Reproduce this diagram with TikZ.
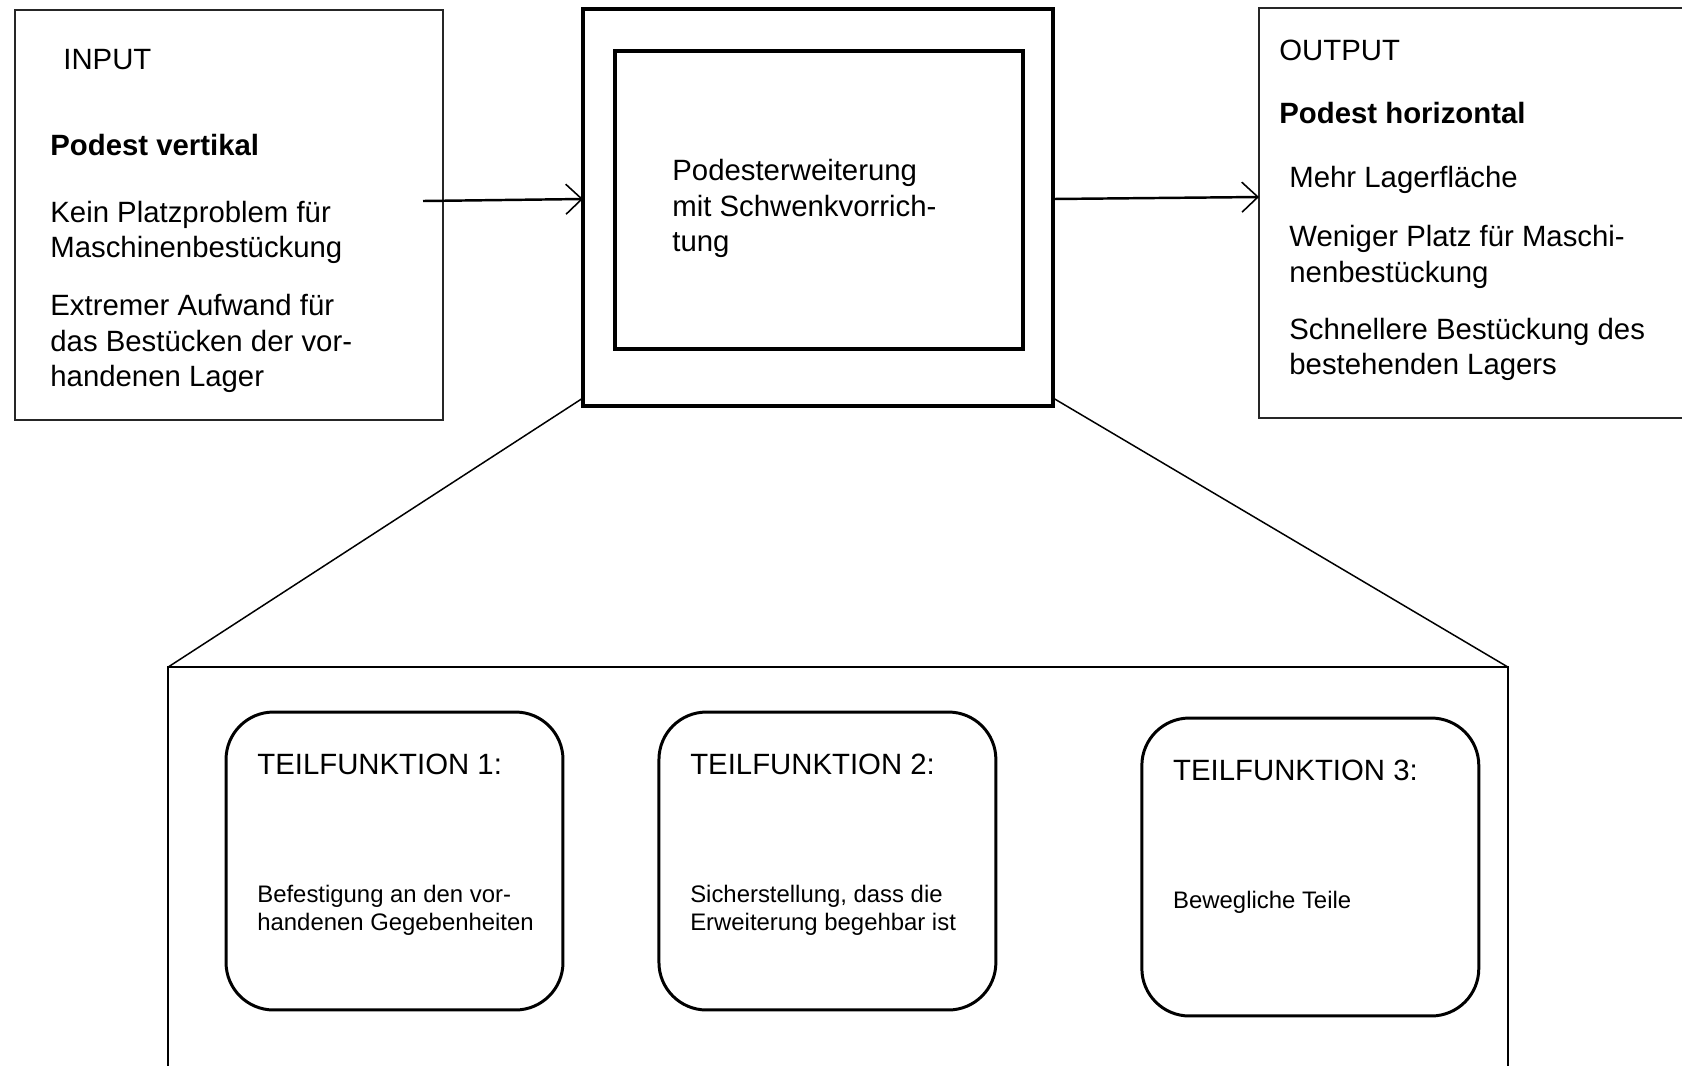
\documentclass[tikz,border=0pt]{standalone}
\usepackage{fontspec}
\setmainfont{Liberation Sans}
\usetikzlibrary{arrows.meta, positioning}

\begin{document}
\begin{tikzpicture}[
  x=0.02cm, y=-0.02cm,
  txt/.style={font=\fontsize{16.7}{20.2}\selectfont, align=left, inner sep=0pt, anchor=north west},
  small/.style={font=\fontsize{13.6}{16}\selectfont, align=left, inner sep=0pt, anchor=north west},
  frame/.style={rectangle, draw=black!85, line width=0.85pt, inner sep=0pt, outer sep=0pt},
  heavy/.style={rectangle, draw=black, line width=2.2pt, inner sep=0pt, outer sep=0pt},
  tfbox/.style={rectangle, draw=black, line width=1.7pt, rounded corners=0.95cm,
                minimum width=6.74cm, minimum height=5.96cm, inner sep=0pt, outer sep=0pt},
  arrow/.style={-{Straight Barb[length=3.2mm, width=6mm, line width=0.9pt]}, line width=1.4pt},
  link/.style={line width=0.85pt},
]
  \clip (0,0) rectangle (1682,1065);

  % input / system / output
  \node[frame, minimum width=8.56cm, minimum height=8.2cm] (input) at (229,215) {};
  \node[heavy, minimum width=9.4cm, minimum height=7.94cm] (system) at (818,207.5) {};
  \node[heavy, line width=2pt, minimum width=8.16cm, minimum height=5.96cm] (core) at (819,200) {};
  \node[frame, minimum width=9.22cm, minimum height=8.2cm] (output) at (1489.5,213) {};

  \node[txt, below right=0.78cm and 0.7cm of input.north west] (intext)
    {\hspace*{7.4pt}INPUT\\[28.7pt]
     \textbf{Podest vertikal}\\[17.9pt]
     Kein Platzproblem für\\
     Maschinenbestückung\\[12.8pt]
     Extremer Aufwand für\\
     das Bestücken der vor-\\
     handenen Lager};
  \node[txt, below right=2.16cm and 1.14cm of core.north west] (coretext)
    {Podesterweiterung\\
     mit Schwenkvorrich-\\
     tung};
  \node[txt, below right=0.64cm and 0.4cm of output.north west] (outtext)
    {OUTPUT\\[15.6pt]
     \textbf{Podest horizontal}\\[16.2pt]
     \hspace*{5.7pt}Mehr Lagerfläche\\[13.4pt]
     \hspace*{5.7pt}Weniger Platz für Maschi-\\
     \hspace*{5.7pt}nenbestückung\\[12.2pt]
     \hspace*{5.7pt}Schnellere Bestückung des\\
     \hspace*{5.7pt}bestehenden Lagers};

  \coordinate (instart) at (423,201);
  \draw[arrow] (instart) -- ([yshift=0.17cm]system.west);
  \draw[arrow] ([yshift=0.17cm]system.east) -- ([yshift=0.32cm]output.west);

  % sub-functions
  \node[frame, draw=black, line width=1.1pt, minimum width=26.8cm, minimum height=9.06cm] (detail) at (838,893.5) {};
  \draw[link] ([yshift=0.16cm]system.south west) -- (detail.north west);
  \draw[link] ([yshift=0.16cm]system.south east) -- (detail.north east);

  \node[tfbox] (tf1) at (394.5,861) {};
  \node[tfbox, right=1.92cm of tf1] (tf2) {};
  \node[tfbox, right=2.92cm of tf2, yshift=-0.12cm] (tf3) {};

  \node[txt, below right=0.84cm and 0.62cm of tf1.north west] (tf1head) {TEILFUNKTION 1:};
  \node[txt, below right=0.84cm and 0.62cm of tf2.north west] (tf2head) {TEILFUNKTION 2:};
  \node[txt, below right=0.84cm and 0.62cm of tf3.north west] (tf3head) {TEILFUNKTION 3:};
  \node[small, below right=3.46cm and 0.62cm of tf1.north west] (tf1text)
    {Befestigung an den vor-\\handenen Gegebenheiten};
  \node[small, below right=3.46cm and 0.62cm of tf2.north west] (tf2text)
    {Sicherstellung, dass die\\Erweiterung begehbar ist};
  \node[small, below right=3.46cm and 0.62cm of tf3.north west] (tf3text)
    {Bewegliche Teile};
\end{tikzpicture}
\end{document}
